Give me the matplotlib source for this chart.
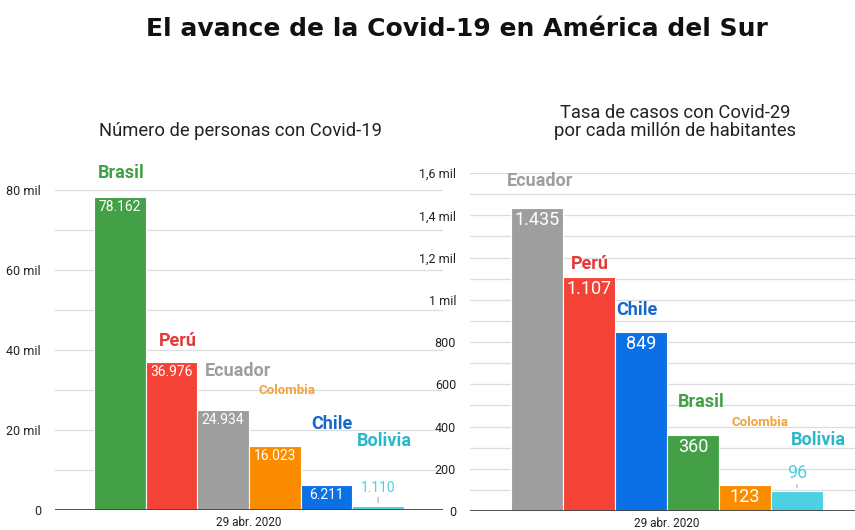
import matplotlib
matplotlib.use("Agg")
import matplotlib.pyplot as plt
from matplotlib.ticker import MultipleLocator, FuncFormatter

plt.rcParams['font.family'] = ['Roboto', 'DejaVu Sans']

# datos: personas con Covid-19 (29 abr. 2020)
paises_casos = ['Brasil', 'Perú', 'Ecuador', 'Colombia', 'Chile', 'Bolivia']
casos = [78162, 36976, 24934, 16023, 6211, 1110]
casos_txt = ['78.162', '36.976', '24.934', '16.023', '6.211', '1.110']

# datos: tasa por millón de habitantes
paises_tasa = ['Ecuador', 'Perú', 'Chile', 'Brasil', 'Colombia', 'Bolivia']
tasa = [1435, 1107, 849, 360, 123, 96]
tasa_txt = ['1.435', '1.107', '849', '360', '123', '96']

fecha = '29 abr. 2020'

colores = {'Brasil': '#43a047', 'Perú': '#f44336', 'Ecuador': '#9e9e9e',
           'Colombia': '#fb8c00', 'Chile': '#0b6fe6', 'Bolivia': '#4dd0e1'}
colores_txt = {'Brasil': '#43a047', 'Perú': '#e53935', 'Ecuador': '#9e9e9e',
               'Colombia': '#f2a33a', 'Chile': '#1668c9', 'Bolivia': '#2ab8c9'}

# desplazamientos de las etiquetas de país (pixeles)
offs_casos = [(1, 24), (6, 21), (15, 39), (12, 55), (5, 61), (6, 65)]
offs_tasa = [(3, 27), (1, 13), (-4, 22), (8, 33), (15, 63), (21, 51)]

fig = plt.figure(figsize=(8.55, 5.3), dpi=100)
fig.text(0.535, 0.945, 'El avance de la Covid-19 en América del Sur',
         ha='center', va='center', fontsize=18, fontweight='bold',
         family='DejaVu Sans', color='#111111')


def grafico(ax, paises, valores, textos, offs, paso, ymax, fmt, fs_val):
    x = range(len(valores))
    ax.bar(x, valores, width=1.0, color=[colores[p] for p in paises],
           edgecolor='white', linewidth=0.8, zorder=3)
    ax.set_ylim(0, ymax)
    ax.yaxis.set_major_locator(MultipleLocator(paso))
    ax.yaxis.set_minor_locator(MultipleLocator(paso / 2))
    ax.yaxis.set_major_formatter(FuncFormatter(fmt))
    ax.grid(axis='y', which='both', color='#dddddd', linewidth=0.9, zorder=0)
    for s in ax.spines.values():
        s.set_visible(False)
    ax.axhline(0, color='#444444', linewidth=1.3, zorder=4)
    ax.tick_params(axis='y', which='both', length=0, pad=10,
                   labelsize=9, labelcolor='#222222')
    ax.set_xticks([(len(valores) - 1) / 2])
    ax.set_xticklabels([fecha])
    ax.tick_params(axis='x', length=0, pad=4, labelsize=8.5, labelcolor='#222222')
    for i, (p, v, t) in enumerate(zip(paises, valores, textos)):
        fs = 9.5 if p == 'Colombia' else 13
        ax.annotate(p, (i, v), xytext=offs[i], textcoords='offset pixels',
                    ha='center', va='center', fontsize=fs, fontweight='bold',
                    color=colores_txt[p], annotation_clip=False, zorder=5)
        if p == 'Bolivia':
            ax.annotate(t, (i, v), xytext=(0, 18), textcoords='offset pixels',
                        ha='center', va='center', fontsize=fs_val,
                        color=colores[p], zorder=5,
                        arrowprops=dict(arrowstyle='-', color='#aaaaaa',
                                        lw=0.8, shrinkA=6, shrinkB=2))
        else:
            ax.annotate(t, (i, v), xytext=(0, -3), textcoords='offset pixels',
                        ha='center', va='top', fontsize=fs_val,
                        color='white', zorder=5)


ax1 = fig.add_axes([0.0643, 0.0377, 0.4538, 0.6038])
grafico(ax1, paises_casos, casos, casos_txt, offs_casos, 20000, 80000,
        lambda v, _: '0' if v == 0 else f'{int(v / 1000)} mil', 10)
ax1.set_xlim(-1.255, 6.255)
fig.text(0.281, 0.753, 'Número de personas con Covid-19', ha='center',
         va='center', fontsize=13.2, color='#222222')

ax2 = fig.add_axes([0.5497, 0.0358, 0.4503, 0.6377])
grafico(ax2, paises_tasa, tasa, tasa_txt, offs_tasa, 200, 1600,
        lambda v, _: '0' if v == 0 else (f'{int(v)}' if v < 1000 else
                                         (f'{v / 1000:g} mil').replace('.', ',')),
        13)
ax2.set_xlim(-1.288, 6.115)
fig.text(0.79, 0.77, 'Tasa de casos con Covid-29\npor cada millón de habitantes',
         ha='center', va='center', fontsize=13.2, color='#222222',
         linespacing=1.05)

fig.savefig('out.png', dpi=100)
